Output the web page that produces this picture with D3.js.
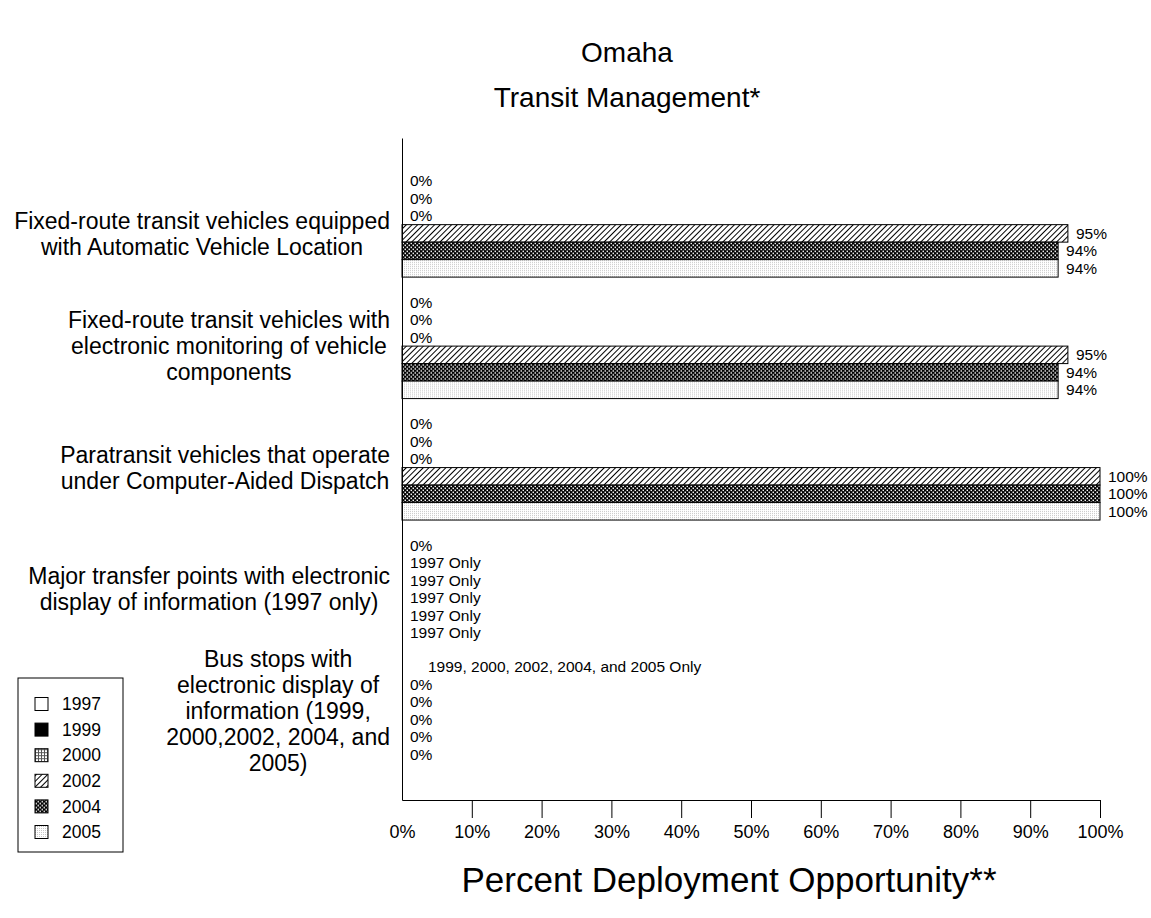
<!DOCTYPE html>
<html>
<head>
<meta charset="utf-8">
<script src="https://cdn.jsdelivr.net/npm/d3@7"></script>
<style>
  body { margin: 0; background: #fff; }
  svg text { font-family: "Liberation Sans", Arial, sans-serif; fill: #000; }
</style>
</head>
<body>
<div class="displayArea"></div>
<script>
// chart data
const years = ["1997", "1999", "2000", "2002", "2004", "2005"];
const categories = [
    ["Fixed-route transit vehicles equipped", "with Automatic Vehicle Location"],
    ["Fixed-route transit vehicles with", "electronic monitoring of vehicle", "components"],
    ["Paratransit vehicles that operate", "under Computer-Aided Dispatch"],
    ["Major transfer points with electronic", "display of information (1997 only)"],
    ["Bus stops with", "electronic display of", "information (1999,", "2000,2002, 2004, and", "2005)"]
];
// null = not surveyed that year
const v1997 = [0, 0, 0, 0, null];
const v1999 = [0, 0, 0, null, 0];
const v2000 = [0, 0, 0, null, 0];
const v2002 = [95.4, 95.4, 100, null, 0];
const v2004 = [94, 94, 100, null, 0];
const v2005 = [94, 94, 100, null, 0];
const notes = [null, null, null, "1997 Only", "1999, 2000, 2002, 2004, and 2005 Only"];
const xTicks = [0, 10, 20, 30, 40, 50, 60, 70, 80, 90, 100];

const seriesValues = [v1997, v1999, v2000, v2002, v2004, v2005];
const fills = ["#fff", "#000", "url(#p2000)", "url(#p2002)", "url(#p2004)", "url(#p2005)"];

var width = 1151, height = 918,
    plotLeft = 402, plotRight = 1100, plotTop = 138, plotBottom = 800;

var svg = d3.select(".displayArea")
    .append("svg")
    .attr("width", width)
    .attr("height", height);

// fill patterns
var defs = svg.append("defs");

var p = defs.append("pattern").attr("id", "p2000")
    .attr("patternUnits", "userSpaceOnUse").attr("width", 3).attr("height", 3);
p.append("rect").attr("width", 3).attr("height", 3).attr("fill", "#fff");
p.append("rect").attr("width", 3).attr("height", 1).attr("fill", "#555");
p.append("rect").attr("width", 1).attr("height", 3).attr("fill", "#555");

p = defs.append("pattern").attr("id", "p2002")
    .attr("patternUnits", "userSpaceOnUse").attr("width", 4).attr("height", 4)
    .attr("patternTransform", "rotate(45)");
p.append("rect").attr("width", 4).attr("height", 4).attr("fill", "#fff");
p.append("rect").attr("width", 1).attr("height", 4).attr("fill", "#000");

p = defs.append("pattern").attr("id", "p2004")
    .attr("patternUnits", "userSpaceOnUse").attr("width", 4).attr("height", 4);
p.append("rect").attr("width", 4).attr("height", 4).attr("fill", "#000");
p.append("rect").attr("x", 0.5).attr("y", 0.5).attr("width", 1.5).attr("height", 1.5).attr("fill", "#fff");
p.append("rect").attr("x", 2.5).attr("y", 2.5).attr("width", 1.5).attr("height", 1.5).attr("fill", "#fff");

p = defs.append("pattern").attr("id", "p2005")
    .attr("patternUnits", "userSpaceOnUse").attr("width", 2).attr("height", 2);
p.append("rect").attr("width", 2).attr("height", 2).attr("fill", "#fff");
p.append("rect").attr("width", 1).attr("height", 1).attr("fill", "#c8c8c8");

// scales
var xScale = d3.scaleLinear().domain([0, 100]).range([plotLeft, plotRight]);

var yScale = d3.scaleBand()
    .domain(d3.range(categories.length))
    .range([plotTop, plotBottom])
    .paddingInner(0.136)
    .paddingOuter(0.293)
    .align(0.48);

var ySub = d3.scaleBand()
    .domain(years)
    .range([0, yScale.bandwidth()]);

// bars and value labels
var groups = svg.selectAll("g.cat")
    .data(categories)
    .enter()
    .append("g")
    .attr("class", "cat")
    .attr("transform", (d, i) => `translate(0,${yScale(i)})`);

groups.each(function (d, ci) {
    var g = d3.select(this);
    years.forEach(function (yr, si) {
        var v = seriesValues[si][ci];
        var y = ySub(yr);
        if (v !== null && v > 0) {
            g.append("rect")
                .attr("x", xScale(0))
                .attr("y", y)
                .attr("width", xScale(v) - xScale(0))
                .attr("height", ySub.bandwidth())
                .attr("fill", fills[si])
                .attr("stroke", "#000")
                .attr("stroke-width", 1);
        }
        var txt = v !== null ? d3.format(".0f")(v) + "%" : notes[ci];
        var dx = (v === null && si === 0) ? 26 : 8;
        g.append("text")
            .attr("x", xScale(v !== null ? v : 0) + dx)
            .attr("y", y + ySub.bandwidth() / 2)
            .attr("dy", "0.35em")
            .style("font-size", "15.5px")
            .text(txt);
    });
});

// axes
var xAxis = d3.axisBottom(xScale)
    .tickValues(xTicks)
    .tickSize(18)
    .tickSizeOuter(0)
    .tickPadding(7)
    .tickFormat(d => d + "%");

var gx = svg.append("g")
    .attr("class", "xAxis")
    .attr("transform", `translate(0,${plotBottom})`)
    .call(xAxis);
gx.selectAll(".tick text").style("font-size", "18px").attr("font-family", null);
gx.selectAll(".tick").filter(d => d === 0).select("line").remove();
gx.selectAll("line, path").attr("stroke", "#000");

var yAxis = d3.axisLeft(yScale).tickSize(0).tickFormat("");
var gy = svg.append("g")
    .attr("class", "yAxis")
    .attr("transform", `translate(${plotLeft},0)`)
    .call(yAxis);
gy.select("path").attr("stroke", "#000");

// category labels, wrapped lines centred in a block that is right aligned
var lineH = 26,
    labelShift = [9, 0, 0, 0, 0];
categories.forEach(function (lines, ci) {
    var cy = yScale(ci) + yScale.bandwidth() / 2 + labelShift[ci];
    var t = svg.append("text")
        .attr("text-anchor", "middle")
        .style("font-size", "23px");
    lines.forEach(function (ln, k) {
        t.append("tspan")
            .attr("y", cy + (k - (lines.length - 1) / 2) * lineH)
            .attr("dy", "0.35em")
            .text(ln);
    });
    var maxW = d3.max(t.selectAll("tspan").nodes(), n => n.getComputedTextLength());
    t.selectAll("tspan").attr("x", 390 - maxW / 2);
});

// titles
svg.append("text").attr("x", 627).attr("y", 52).attr("dy", "0.35em")
    .attr("text-anchor", "middle").style("font-size", "28px").text("Omaha");
svg.append("text").attr("x", 627).attr("y", 97).attr("dy", "0.35em")
    .attr("text-anchor", "middle").style("font-size", "28px").text("Transit Management*");
svg.append("text").attr("x", 729).attr("y", 880).attr("dy", "0.35em")
    .attr("text-anchor", "middle").style("font-size", "35px").text("Percent Deployment Opportunity**");

// legend
var legend = svg.append("g").attr("class", "legend");
legend.append("rect")
    .attr("x", 18).attr("y", 678).attr("width", 105).attr("height", 174)
    .attr("fill", "#fff").attr("stroke", "#000");
var items = legend.selectAll("g.item")
    .data(years)
    .enter()
    .append("g")
    .attr("transform", (d, i) => `translate(35,${704 + i * 25.6})`);
items.append("rect")
    .attr("x", 0).attr("y", -6.5).attr("width", 13).attr("height", 13)
    .attr("fill", (d, i) => fills[i])
    .attr("stroke", "#000");
items.append("text")
    .attr("x", 27).attr("dy", "0.35em")
    .style("font-size", "17.5px")
    .text(d => d);
</script>
</body>
</html>
